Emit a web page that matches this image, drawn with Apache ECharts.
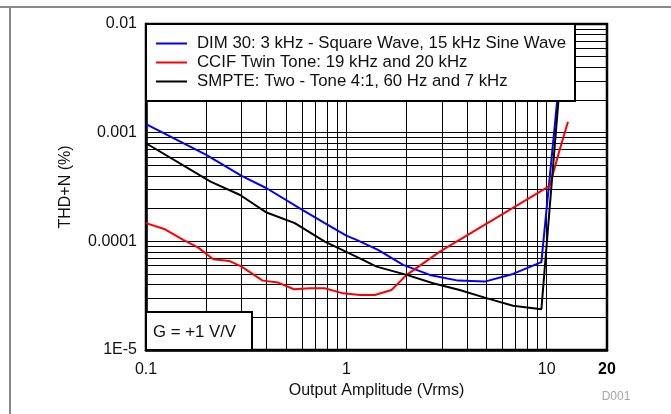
<!DOCTYPE html>
<html>
<head>
<meta charset="utf-8">
<script src="https://cdn.jsdelivr.net/npm/echarts@6/dist/echarts.min.js"></script>
<style>html,body{margin:0;padding:0;background:#fff}#c{width:671px;height:414px}</style>
</head>
<body>
<div id="c"></div>
<script>
// ---- data ----
const seriesNames = [
  'DIM 30: 3 kHz - Square Wave, 15 kHz Sine Wave',
  'CCIF Twin Tone: 19 kHz and 20 kHz',
  'SMPTE: Two - Tone 4:1, 60 Hz and 7 kHz'
];
const dimX = [0.1, 0.2, 0.3, 0.4, 0.6, 0.8, 1.0, 1.124, 1.44, 1.92, 2.61, 3.61, 4.91, 6.79, 9.41, 12.3];
const dimY = [1.2e-3, 6.24e-4, 4.0e-4, 3.08e-4, 1.96e-4, 1.43e-4, 1.13e-4, 1.03e-4, 8.34e-5, 6.07e-5, 4.91e-5, 4.35e-5, 4.26e-5, 5.01e-5, 6.43e-5, 1.0e-2];
const ccifX = [0.1, 0.1244, 0.1535, 0.1824, 0.2167, 0.2604, 0.3, 0.382, 0.457, 0.547, 0.657, 0.78, 0.964, 1.168, 1.387, 1.68, 2.0, 2.93, 10.35, 11.6, 12.77];
const ccifY = [1.47e-4, 1.29e-4, 1.03e-4, 8.75e-5, 6.84e-5, 6.6e-5, 5.85e-5, 4.35e-5, 4.17e-5, 3.62e-5, 3.70e-5, 3.70e-5, 3.32e-5, 3.21e-5, 3.21e-5, 3.57e-5, 4.91e-5, 8.04e-5, 3.24e-4, 6.93e-4, 1.26e-3];
const smpteX = [0.1, 0.21, 0.295, 0.4, 0.553, 0.781, 1.168, 1.415, 2.0, 2.71, 3.68, 5.0, 6.79, 9.41, 12.3];
const smpteY = [7.99e-4, 3.54e-4, 2.67e-4, 1.84e-4, 1.47e-4, 9.93e-5, 6.98e-5, 5.85e-5, 4.91e-5, 4.12e-5, 3.57e-5, 3.0e-5, 2.55e-5, 2.37e-5, 1.0e-2];

const xTickValues = [0.1, 1, 10, 20];
const xTickLabels = ['0.1', '1', '10', '20'];
const yTickValues = [0.00001, 0.0001, 0.001, 0.01];
const yTickLabels = ['1E-5', '0.0001', '0.001', '0.01'];
const xGridValues = [0.1, 0.2, 0.3, 0.4, 0.5, 0.6, 0.7, 0.8, 0.9, 1, 2, 3, 4, 5, 6, 7, 8, 9, 10, 20];
const yGridValues = [1e-5, 2e-5, 3e-5, 4e-5, 5e-5, 6e-5, 7e-5, 8e-5, 9e-5,
  1e-4, 2e-4, 3e-4, 4e-4, 5e-4, 6e-4, 7e-4, 8e-4, 9e-4,
  1e-3, 2e-3, 3e-3, 4e-3, 5e-3, 6e-3, 7e-3, 8e-3, 9e-3, 1e-2];

const colors = ['#0000ff', '#ff0000', '#000000'];
const FONT = '"Liberation Sans", Arial, Helvetica, sans-serif';

function zip(xs, ys) { return xs.map((x, i) => [x, ys[i]]); }
function nearestIdx(vals, v) {
  let best = 0, bd = Infinity;
  vals.forEach((t, i) => { const d = Math.abs(Math.log10(t) - Math.log10(v)); if (d < bd) { bd = d; best = i; } });
  return best;
}

const chart = echarts.init(document.getElementById('c'), null, { renderer: 'canvas' });
chart.setOption({
  animation: false,
  backgroundColor: '#fff',
  textStyle: { fontFamily: FONT },
  grid: { left: 146, top: 24, right: 64, bottom: 64, show: true, borderColor: '#000', borderWidth: 2.5, backgroundColor: 'transparent' },
  xAxis: {
    type: 'log', logBase: 10, min: 0.1, max: 20,
    name: 'Output Amplitude (Vrms)', nameLocation: 'middle', nameGap: 30,
    nameTextStyle: { fontSize: 16, color: '#111', fontFamily: FONT },
    axisLine: { show: true, lineStyle: { color: '#000', width: 2.5 } },
    axisTick: { show: false, customValues: xGridValues },
    splitLine: { show: true, lineStyle: { color: '#000', width: 1 } },
    minorSplitLine: { show: false },
    axisLabel: {
      customValues: xTickValues, margin: 12, fontSize: 16, color: '#111', fontFamily: FONT,
      formatter: function (v) {
        const i = nearestIdx(xTickValues, v);
        return i === xTickValues.length - 1 ? '{b|' + xTickLabels[i] + '}' : xTickLabels[i];
      },
      rich: { b: { fontWeight: 'bold', fontSize: 16, color: '#000', fontFamily: FONT } }
    }
  },
  yAxis: {
    type: 'log', logBase: 10, min: 0.00001, max: 0.01,
    name: 'THD+N (%)', nameLocation: 'middle', nameGap: 72,
    nameTextStyle: { fontSize: 16, color: '#111', fontFamily: FONT },
    axisLine: { show: true, lineStyle: { color: '#000', width: 2.5 } },
    axisTick: { show: false, customValues: yGridValues },
    splitLine: { show: true, lineStyle: { color: '#000', width: 1 } },
    axisLabel: {
      customValues: yTickValues, margin: 9, fontSize: 16, color: '#111', fontFamily: FONT,
      formatter: function (v) { return yTickLabels[nearestIdx(yTickValues, v)]; }
    }
  },
  legend: {
    orient: 'vertical', left: 146, top: 24,
    backgroundColor: '#fff', borderColor: '#000', borderWidth: 2,
    padding: [11, 9, 11, 9], itemGap: 2, itemWidth: 31, itemHeight: 17,
    selectedMode: false,
    itemStyle: { opacity: 0, borderWidth: 0 },
    lineStyle: { width: 2 },
    textStyle: { fontSize: 16.8, color: '#111', fontFamily: FONT, padding: [0, 0, 0, 5], lineHeight: 17 },
    data: seriesNames
  },
  series: [
    { name: seriesNames[0], type: 'line', data: zip(dimX, dimY), symbol: 'none', lineStyle: { color: colors[0], width: 2 }, itemStyle: { color: colors[0] } },
    { name: seriesNames[1], type: 'line', data: zip(ccifX, ccifY), symbol: 'none', lineStyle: { color: colors[1], width: 2 }, itemStyle: { color: colors[1] } },
    { name: seriesNames[2], type: 'line', data: zip(smpteX, smpteY), symbol: 'none', lineStyle: { color: colors[2], width: 2 }, itemStyle: { color: colors[2] } }
  ],
  graphic: [
    { type: 'line', shape: { x1: 0, y1: 7, x2: 671, y2: 7 }, style: { stroke: '#888', lineWidth: 2 }, z: 10 },
    { type: 'line', shape: { x1: 10, y1: 7, x2: 10, y2: 414 }, style: { stroke: '#888', lineWidth: 2 }, z: 10 },
    { type: 'rect', shape: { x: 146, y: 312, width: 106, height: 38 }, style: { fill: '#fff', stroke: '#000', lineWidth: 2 }, z: 10 },
    { type: 'text', x: 153, y: 332, style: { text: 'G = +1 V/V', font: '16.8px ' + FONT, fill: '#111', textVerticalAlign: 'middle' }, z: 11 },
    { type: 'text', x: 616, y: 397, style: { text: 'D001', font: '12px ' + FONT, fill: '#a6a6a6', textAlign: 'center', textVerticalAlign: 'middle' }, z: 11 }
  ]
});
</script>
</body>
</html>
